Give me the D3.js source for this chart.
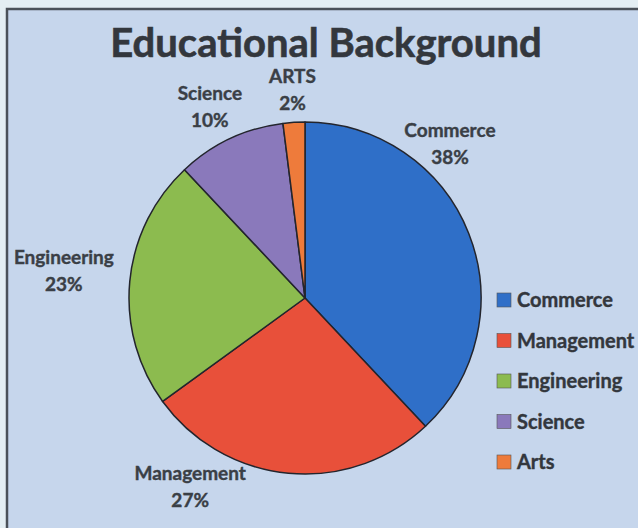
<!DOCTYPE html>
<html>
<head>
<meta charset="utf-8">
<script src="https://cdn.jsdelivr.net/npm/d3@7"></script>
<style>
  body { margin: 0; background: #e4eef3; }
  svg { display: block; }
</style>
</head>
<body>
<div class="chart"></div>
<script>
// chart values
var categories = ["Commerce", "Management", "Engineering", "Science", "ARTS"];
var legendNames = ["Commerce", "Management", "Engineering", "Science", "Arts"];
var shares = [38, 27, 23, 10, 2];
var colors = ["#2f6fc8", "#e8503a", "#8cbb4f", "#8a79bb", "#ee7b3b"];
// label nudges away from the radial point (layout only)
var labelNudge = [[-41, -80], [-96, -10], [-42, -8], [-10, -10], [0, -8]];

var width = 638, height = 528;
var cx = 305, cy = 298, radius = 176;
var font = "Lato, 'Open Sans', sans-serif";

var svg = d3.select(".chart")
    .append("svg")
    .attr("width", width)
    .attr("height", height);

// panel with dark frame on top/left
svg.append("rect")
    .attr("x", 7).attr("y", 9)
    .attr("width", width).attr("height", height)
    .attr("fill", "#c6d6ec");
svg.append("path")
    .attr("d", "M7," + height + "V9H" + width)
    .attr("fill", "none")
    .attr("stroke", "#4b5159")
    .attr("stroke-width", 2.5);

svg.append("text")
    .attr("x", 326).attr("y", 57)
    .attr("text-anchor", "middle")
    .attr("font-family", font)
    .attr("font-weight", "bold")
    .attr("font-size", 40)
    .attr("fill", "#33373d")
    .attr("stroke", "#33373d")
    .attr("stroke-width", 0.6)
    .text("Educational Background");

var pie = d3.pie().sort(null).value(function(d){ return d; });
var arcs = pie(shares);
var arc = d3.arc().innerRadius(0).outerRadius(radius);
var labelArc = d3.arc().innerRadius(radius + 24).outerRadius(radius + 24);

var g = svg.append("g").attr("transform", "translate(" + cx + "," + cy + ")");

g.selectAll("path.slice")
    .data(arcs)
    .enter()
    .append("path")
    .attr("class", "slice")
    .attr("d", arc)
    .attr("fill", function(d, i){ return colors[i]; })
    .attr("stroke", "#23252d")
    .attr("stroke-width", 1.5)
    .attr("stroke-linejoin", "round");

var labels = g.selectAll("text.lbl")
    .data(arcs)
    .enter()
    .append("text")
    .attr("class", "lbl")
    .attr("text-anchor", "middle")
    .attr("font-family", font)
    .attr("font-weight", "bold")
    .attr("font-size", 19)
    .attr("fill", "#3a3f46")
    .attr("stroke", "#3a3f46")
    .attr("stroke-width", 0.4)
    .attr("transform", function(d, i){
        var p = labelArc.centroid(d);
        return "translate(" + (p[0] + labelNudge[i][0]) + "," + (p[1] + labelNudge[i][1]) + ")";
    });
labels.append("tspan")
    .attr("x", 0).attr("y", -7)
    .text(function(d, i){ return categories[i]; });
labels.append("tspan")
    .attr("x", 0).attr("y", 20)
    .text(function(d){ return d.data + "%"; });

// legend
var legend = svg.append("g").attr("transform", "translate(497,300)");
var rows = legend.selectAll("g")
    .data(legendNames)
    .enter()
    .append("g")
    .attr("transform", function(d, i){ return "translate(0," + (i * 40.5) + ")"; });
rows.append("rect")
    .attr("x", 0).attr("y", -7)
    .attr("width", 14).attr("height", 14)
    .attr("fill", function(d, i){ return colors[i]; })
    .attr("stroke", "#555")
    .attr("stroke-width", 0.6);
rows.append("text")
    .attr("x", 20).attr("y", 7)
    .attr("font-family", font)
    .attr("font-weight", "bold")
    .attr("font-size", 20)
    .attr("fill", "#33373d")
    .attr("stroke", "#33373d")
    .attr("stroke-width", 0.4)
    .text(function(d){ return d; });
</script>
</body>
</html>
